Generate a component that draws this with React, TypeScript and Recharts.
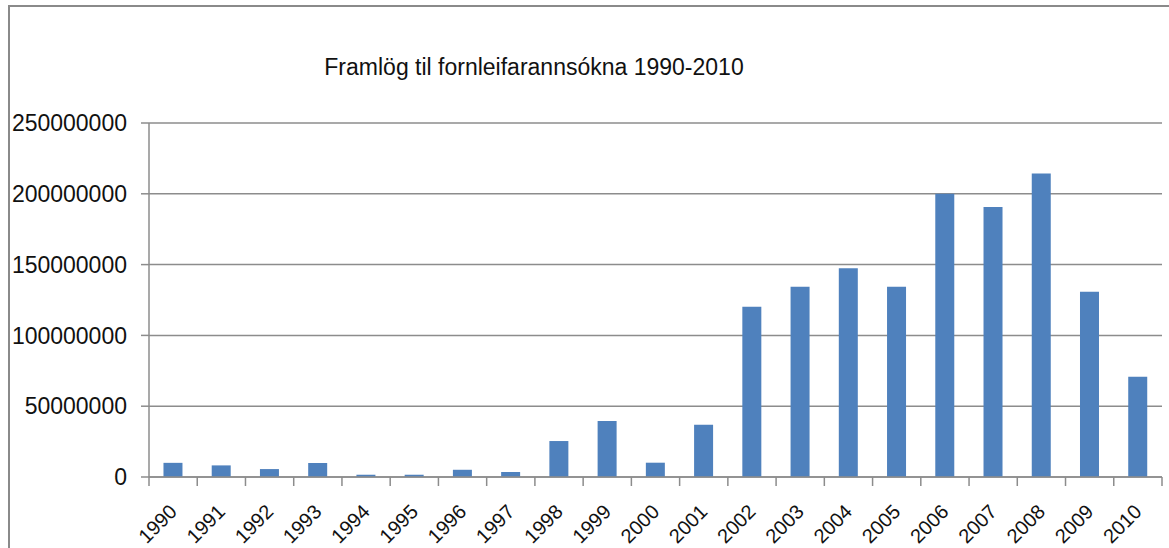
import React from 'react';
import { BarChart, Bar, XAxis, YAxis, CartesianGrid } from 'recharts';

const years = ['1990', '1991', '1992', '1993', '1994', '1995', '1996', '1997', '1998', '1999', '2000', '2001', '2002', '2003', '2004', '2005', '2006', '2007', '2008', '2009', '2010'];
const amounts = [10000000, 8200000, 5600000, 9900000, 1600000, 1600000, 5100000, 3500000, 25400000, 39500000, 10100000, 36900000, 120300000, 134400000, 147400000, 134400000, 200000000, 190600000, 214400000, 130900000, 70800000];
const yTicks = [0, 50000000, 100000000, 150000000, 200000000, 250000000];
const title = 'Framlög til fornleifarannsókna 1990-2010';

const data = years.map((y, i) => ({ year: y, value: amounts[i] }));

const W = 1169;
const H = 548;
const PLOT_LEFT = 149;
const PLOT_RIGHT = 1162;
const BAND = (PLOT_RIGHT - PLOT_LEFT) / years.length;
const FONT = '"Liberation Sans", Arial, sans-serif';
const GRID = '#8c8c8c';

const XTick = (props: any) => {
  const { x, y, payload, index } = props;
  return (
    <g>
      <line x1={x - BAND / 2} x2={x - BAND / 2} y1={y} y2={y + 9} stroke={GRID} strokeWidth={1.5} />
      {index === years.length - 1 && (
        <line x1={x + BAND / 2} x2={x + BAND / 2} y1={y} y2={y + 9} stroke={GRID} strokeWidth={1.5} />
      )}
      <text
        x={0}
        y={0}
        transform={`translate(${x + 5},${y + 36}) rotate(-45)`}
        textAnchor="end"
        fontFamily={FONT}
        fontSize={20}
        fill="#111"
      >
        {payload.value}
      </text>
    </g>
  );
};

export default function App() {
  return (
    <div style={{ position: 'absolute', left: 0, top: 0, width: W, height: H, overflow: 'hidden', background: '#fff' }}>
      <div
        style={{
          position: 'absolute',
          left: 8,
          top: 5,
          width: 1300,
          height: 700,
          border: '2px solid #8a8a8a',
          boxSizing: 'border-box',
        }}
      />
      <div
        style={{
          position: 'absolute',
          left: 534,
          top: 54,
          transform: 'translateX(-50%)',
          fontFamily: FONT,
          fontSize: 23,
          color: '#111',
          whiteSpace: 'nowrap',
          lineHeight: '27px',
        }}
      >
        {title}
      </div>
      <div style={{ position: 'absolute', left: 0, top: 0 }}>
        <BarChart
          width={W}
          height={H}
          data={data}
          margin={{ top: 123, right: W - PLOT_RIGHT, bottom: 0, left: 0 }}
          barCategoryGap="30%"
        >
          <CartesianGrid vertical={false} stroke={GRID} strokeWidth={1.5} />
          <XAxis
            dataKey="year"
            interval={0}
            height={71}
            tickLine={false}
            tickSize={0}
            tickMargin={0}
            axisLine={{ stroke: GRID, strokeWidth: 1.5 }}
            tick={<XTick />}
          />
          <YAxis
            width={PLOT_LEFT}
            domain={[0, 250000000]}
            ticks={yTicks}
            interval={0}
            tickSize={8}
            tickMargin={14}
            tickLine={{ stroke: GRID, strokeWidth: 1.5 }}
            axisLine={{ stroke: GRID, strokeWidth: 1.5 }}
            tick={{ fontFamily: FONT, fontSize: 23, fill: '#111' }}
            tickFormatter={(v: number) => String(v)}
          />
          <Bar dataKey="value" fill="#4F81BD" isAnimationActive={false} />
        </BarChart>
      </div>
    </div>
  );
}
